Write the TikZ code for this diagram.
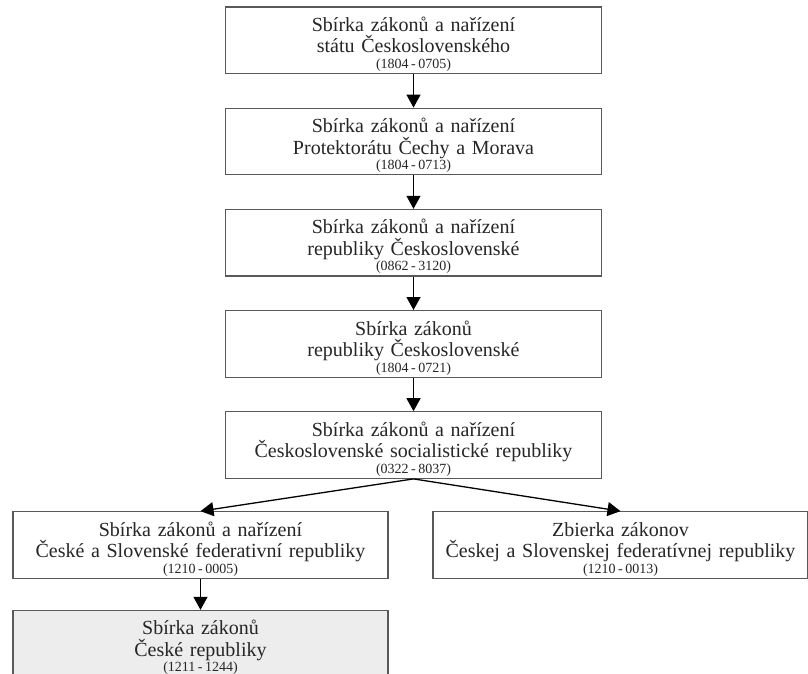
\documentclass[tikz,border=0pt]{standalone}
\usepackage{fontspec}
\setmainfont{Liberation Serif}
\usepackage{xcolor}
\usetikzlibrary{positioning, arrows.meta}

\newcommand{\years}[2]{{\fontsize{14}{14}\selectfont(#1\hspace{2.5pt}-\hspace{2.5pt}#2)\rule[-5pt]{0pt}{5pt}}}

\begin{document}
\begin{tikzpicture}[
  x=1pt, y=-1pt,
  >={Triangle[length=13pt, width=14pt]},
  node distance=33.5pt,
  sbirka/.style={draw=black!65, line width=1.2pt, fill=white, text=black!85,
    text width=376pt, inner sep=0pt, align=center,
    font=\fontsize{20}{21.5}\selectfont,
    execute at begin node={\rule{0pt}{24.5pt}}},
  arr/.style={->, line width=1.3pt, black}
]
\useasboundingbox (0,0) rectangle (808,674);

% Czechoslovak collections, one after another
\node[sbirka] (sbStat) at (413.5,40.25)
  {Sbírka zákonů a nařízení\\státu Československého\\[-6pt]\years{1804}{0705}};
\node[sbirka, below=of sbStat] (sbProtektorat)
  {Sbírka zákonů a nařízení\\Protektorátu Čechy a Morava\\[-6pt]\years{1804}{0713}};
\node[sbirka, below=of sbProtektorat] (sbRepublika)
  {Sbírka zákonů a nařízení\\republiky Československé\\[-6pt]\years{0862}{3120}};
\node[sbirka, below=of sbRepublika] (sbRepublikaB)
  {Sbírka zákonů\\republiky Československé\\[-6pt]\years{1804}{0721}};
\node[sbirka, below=of sbRepublikaB] (sbCSSR)
  {Sbírka zákonů a nařízení\\Československé socialistické republiky\\[-6pt]\years{0322}{8037}};

% Federal split
\node[sbirka, text width=375pt] (sbCSFR) at (200.5,545)
  {Sbírka zákonů a nařízení\\České a Slovenské federativní republiky\\[-6pt]\years{1210}{0005}};
\node[sbirka, text width=375pt] (zbCSFR) at (620.5,545)
  {Zbierka zákonov\\Českej a Slovenskej federatívnej republiky\\[-6pt]\years{1210}{0013}};
\node[sbirka, text width=375pt, fill=black!7, below=31pt of sbCSFR] (sbCR)
  {Sbírka zákonů\\České republiky\\[-6pt]\years{1211}{1244}};

% Arrows
\draw[arr] (sbStat) -- (sbProtektorat);
\draw[arr] (sbProtektorat) -- (sbRepublika);
\draw[arr] (sbRepublika) -- (sbRepublikaB);
\draw[arr] (sbRepublikaB) -- (sbCSSR);
\draw[arr] (sbCSSR.south) -- (sbCSFR.north);
\draw[arr] (sbCSSR.south) -- (zbCSFR.north);
\draw[arr] (sbCSFR) -- (sbCR);

\end{tikzpicture}
\end{document}
